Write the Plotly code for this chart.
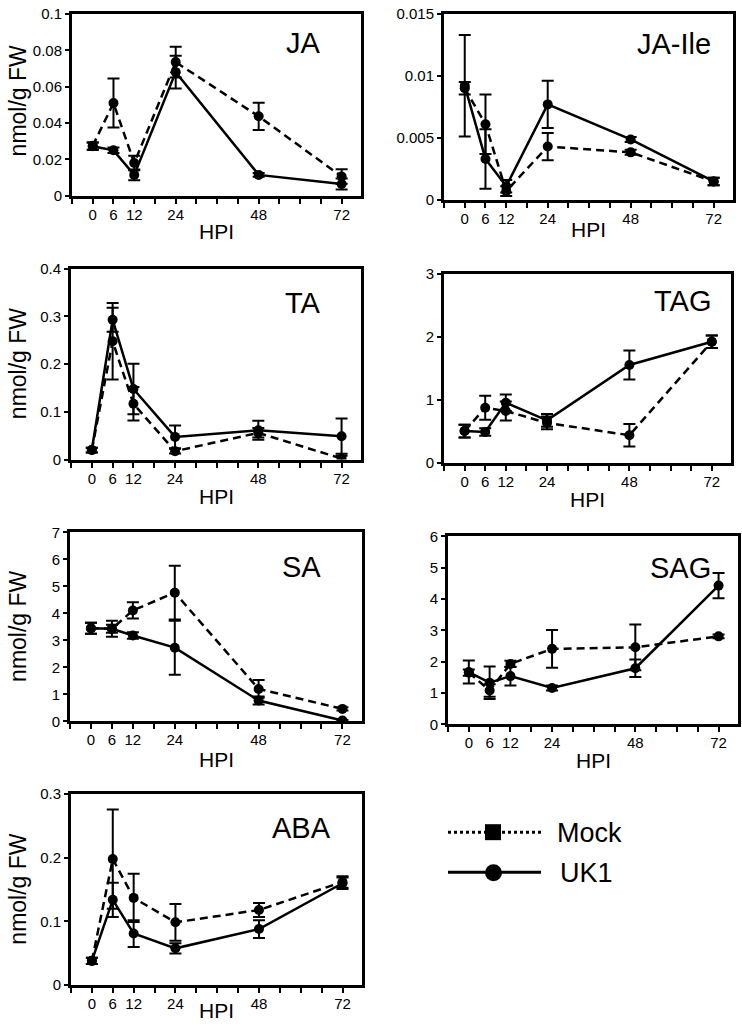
import plotly.graph_objects as go

W, H = 742, 1033

hpi = [0, 6, 12, 24, 48, 72]

# ---- data (nmol/g FW) ----
ja_mock = [0.0275, 0.051, 0.018, 0.0735, 0.0437, 0.0106]
ja_mock_err = [0.002, 0.0135, 0.004, 0.0085, 0.0075, 0.004]
ja_uk1 = [0.0272, 0.025, 0.0115, 0.068, 0.0115, 0.0065]
ja_uk1_err = [0.002, 0.0015, 0.003, 0.009, 0.001, 0.003]

jaile_mock = [0.0090, 0.0061, 0.0007, 0.0043, 0.00383, 0.00148]
jaile_mock_err = [0.0005, 0.0024, 0.0004, 0.0011, 0.0002, 0.0003]
jaile_uk1 = [0.0092, 0.0033, 0.0011, 0.0077, 0.00487, 0.00148]
jaile_uk1_err = [0.0041, 0.0024, 0.0005, 0.0019, 0.0002, 0.0003]

ta_mock = [0.02, 0.248, 0.117, 0.0175, 0.056, 0.002]
ta_mock_err = [0.005, 0.08, 0.035, 0.005, 0.01, 0.006]
ta_uk1 = [0.02, 0.293, 0.148, 0.0475, 0.0615, 0.049]
ta_uk1_err = [0.005, 0.025, 0.053, 0.024, 0.02, 0.037]

tag_mock = [0.5, 0.87, 0.82, 0.63, 0.434, 1.92]
tag_mock_err = [0.1, 0.19, 0.15, 0.1, 0.18, 0.1]
tag_uk1 = [0.5, 0.487, 0.95, 0.67, 1.55, 1.92]
tag_uk1_err = [0.1, 0.06, 0.13, 0.1, 0.23, 0.1]

sa_mock = [3.45, 3.43, 4.11, 4.77, 1.2, 0.46]
sa_mock_err = [0.2, 0.3, 0.3, 1.0, 0.33, 0.06]
sa_uk1 = [3.45, 3.43, 3.18, 2.73, 0.77, 0.03]
sa_uk1_err = [0.2, 0.15, 0.12, 1.0, 0.15, 0.02]

sag_mock = [1.65, 1.08, 1.93, 2.41, 2.46, 2.81]
sag_mock_err = [0.1, 0.2, 0.1, 0.6, 0.73, 0.06]
sag_uk1 = [1.67, 1.33, 1.54, 1.16, 1.79, 4.43]
sag_uk1_err = [0.37, 0.52, 0.3, 0.08, 0.28, 0.4]

aba_mock = [0.038, 0.198, 0.137, 0.0986, 0.118, 0.162]
aba_mock_err = [0.005, 0.078, 0.038, 0.029, 0.011, 0.009]
aba_uk1 = [0.038, 0.134, 0.081, 0.0577, 0.088, 0.16]
aba_uk1_err = [0.005, 0.027, 0.021, 0.008, 0.014, 0.009]

names = ["JA", "JA-Ile", "TA", "TAG", "SA", "SAG", "ABA"]
mock_vals = [ja_mock, jaile_mock, ta_mock, tag_mock, sa_mock, sag_mock, aba_mock]
mock_errs = [ja_mock_err, jaile_mock_err, ta_mock_err, tag_mock_err, sa_mock_err, sag_mock_err, aba_mock_err]
uk1_vals = [ja_uk1, jaile_uk1, ta_uk1, tag_uk1, sa_uk1, sag_uk1, aba_uk1]
uk1_errs = [ja_uk1_err, jaile_uk1_err, ta_uk1_err, tag_uk1_err, sa_uk1_err, sag_uk1_err, aba_uk1_err]

ytick_vals = [
    [0, 0.02, 0.04, 0.06, 0.08, 0.1],
    [0, 0.005, 0.01, 0.015],
    [0, 0.1, 0.2, 0.3, 0.4],
    [0, 1, 2, 3],
    [0, 1, 2, 3, 4, 5, 6, 7],
    [0, 1, 2, 3, 4, 5, 6],
    [0, 0.1, 0.2, 0.3],
]
ytick_text = [
    ["0", "0.02", "0.04", "0.06", "0.08", "0.1"],
    ["0", "0.005", "0.01", "0.015"],
    ["0", "0.1", "0.2", "0.3", "0.4"],
    ["0", "1", "2", "3"],
    ["0", "1", "2", "3", "4", "5", "6", "7"],
    ["0", "1", "2", "3", "4", "5", "6"],
    ["0", "0.1", "0.2", "0.3"],
]

# ---- layout geometry (target pixels) ----
boxes = [
    (72, 361, 6, 195), (444, 733, 6, 199),
    (71, 361, 268, 459), (444, 731, 273, 462),
    (70, 362, 532, 721), (448, 738, 536, 724),
    (71, 362, 794, 985),
]
label_pos = [(323, 42), (713, 43), (323, 302), (713, 300), (323, 567), (713, 568), (333, 828)]
hpi_off = [36, 30, 37, 37, 38, 36, 25]
left_col = [True, False, True, False, True, False, True]

def px(x):
    return x / W

def py(y):
    # vertical placement of the figure in the photographed page
    yf = max((y - 8) * H / (H - 16), 5)
    return 1 - yf / H

FONT = "Liberation Sans, Arial, sans-serif"
fig = go.Figure()
xt_vals = list(range(-6, 73, 6))
xt_text = [str(v) if v in hpi else "" for v in xt_vals]

annotations = []
for i, nm in enumerate(names):
    sfx = "" if i == 0 else str(i + 1)
    xa, ya = "x" + sfx, "y" + sfx
    fig.add_trace(go.Scatter(
        x=hpi, y=mock_vals[i], xaxis=xa, yaxis=ya, mode="lines+markers",
        line=dict(color="black", width=2.5, dash="8px,5px"),
        marker=dict(symbol="circle", size=10, color="black"),
        error_y=dict(type="data", array=mock_errs[i], color="black", thickness=2, width=6),
        showlegend=False, name="Mock"))
    fig.add_trace(go.Scatter(
        x=hpi, y=uk1_vals[i], xaxis=xa, yaxis=ya, mode="lines+markers",
        line=dict(color="black", width=2.5),
        marker=dict(symbol="circle", size=10, color="black"),
        error_y=dict(type="data", array=uk1_errs[i], color="black", thickness=2, width=6),
        showlegend=False, name="UK1"))
    x0, x1, y0, y1 = boxes[i]
    fig.layout["xaxis" + sfx] = dict(
        domain=[px(x0), px(x1)], anchor=ya, range=[-6, 77.6],
        tickvals=xt_vals, ticktext=xt_text, ticks="outside", ticklen=5, tickwidth=2,
        tickcolor="black", showline=True, linewidth=3, linecolor="black", mirror=True,
        showgrid=False, zeroline=False, tickfont=dict(family=FONT, size=15, color="black"),
        ticklabelstandoff=-2)
    fig.layout["yaxis" + sfx] = dict(
        domain=[py(y1), py(y0)], anchor=xa, range=[0, ytick_vals[i][-1]],
        tickvals=ytick_vals[i], ticktext=ytick_text[i], ticks="outside", ticklen=4, tickwidth=2,
        tickcolor="black", showline=True, linewidth=3, linecolor="black", mirror=True,
        showgrid=False, zeroline=False, tickfont=dict(family=FONT, size=15, color="black"))
    lx, ly = label_pos[i]
    annotations.append(dict(text=nm, x=px(lx), y=py(ly), xref="paper", yref="paper",
                            xanchor="right", yanchor="middle", showarrow=False,
                            font=dict(family=FONT, size=29, color="black")))
    annotations.append(dict(text="HPI", x=px((x0 + x1) / 2), y=py(y1 + hpi_off[i]),
                            xref="paper", yref="paper", xanchor="center", yanchor="middle",
                            showarrow=False, font=dict(family=FONT, size=21, color="black")))
    if left_col[i]:
        annotations.append(dict(text="nmol/g FW", x=px(18), y=py((y0 + y1) / 2),
                                xref="paper", yref="paper", xanchor="center", yanchor="middle",
                                textangle=-90, showarrow=False,
                                font=dict(family=FONT, size=23, color="black")))

# ---- legend (drawn manually) ----
shapes = [
    dict(type="line", xref="paper", yref="paper", x0=px(448), x1=px(541), y0=py(832), y1=py(832),
         line=dict(color="black", width=3, dash="3px,3px")),
    dict(type="rect", xref="paper", yref="paper", x0=px(485), x1=px(501), y0=py(824), y1=py(840),
         fillcolor="black", line=dict(width=0)),
    dict(type="line", xref="paper", yref="paper", x0=px(448), x1=px(541), y0=py(872), y1=py(872),
         line=dict(color="black", width=3)),
    dict(type="circle", xref="paper", yref="paper", x0=px(485), x1=px(502), y0=py(864), y1=py(881),
         fillcolor="black", line=dict(width=0)),
]
annotations.append(dict(text="Mock", x=px(555), y=py(833), xref="paper", yref="paper",
                        xanchor="left", yanchor="middle", showarrow=False,
                        font=dict(family=FONT, size=27, color="black")))
annotations.append(dict(text="UK1", x=px(558), y=py(873), xref="paper", yref="paper",
                        xanchor="left", yanchor="middle", showarrow=False,
                        font=dict(family=FONT, size=27, color="black")))

fig.update_layout(width=W, height=H, margin=dict(l=0, r=0, t=0, b=0),
                  paper_bgcolor="white", plot_bgcolor="white",
                  annotations=annotations, shapes=shapes, showlegend=False)

pin = ("document.documentElement.style.margin='0';document.body.style.margin='0';"
       "document.body.style.padding='0';document.documentElement.style.overflow='hidden';"
       "var d=document.getElementById('{plot_id}');d.style.position='fixed';"
       "d.style.left='0px';d.style.top='0px';")
fig.write_html("out.html", config={"displayModeBar": False}, post_script=pin)
